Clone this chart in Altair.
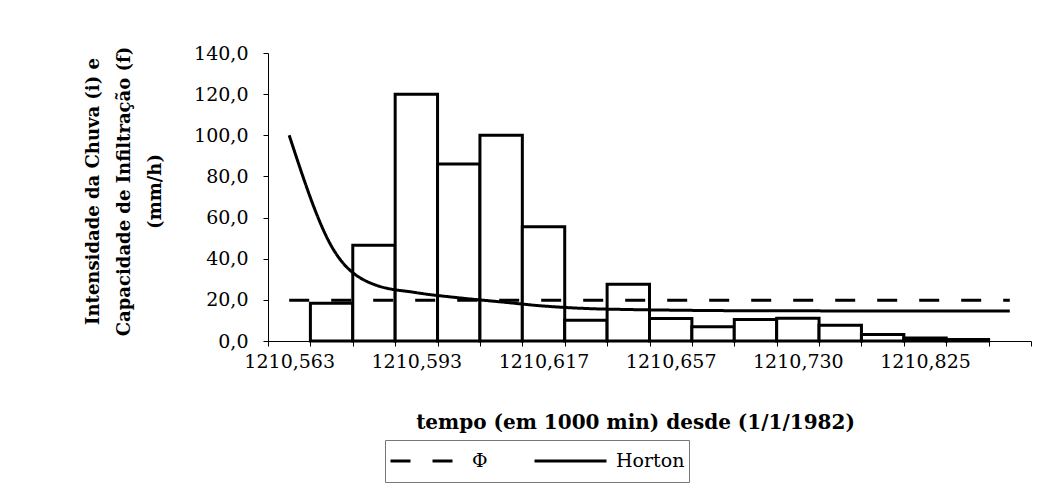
import altair as alt
import pandas as pd

# ---- data ----
x_labels = ["1210,563", "1210,593", "1210,617", "1210,657", "1210,730", "1210,825"]
rain = [None, 18.3, 46.5, 120.0, 86.0, 100.0, 55.5, 10.1, 27.6, 10.9, 6.9, 10.4, 11.0, 7.6, 3.1, 1.5, 0.7, None]
horton = [100.0, 46.0, 27.5, 23.5, 21.0, 19.0, 17.0, 15.8, 15.3, 15.0, 14.8, 14.7, 14.7, 14.6, 14.6, 14.6, 14.6, 14.6]
phi_value = 19.8
series_names = ["Φ", "Horton"]

n = len(horton)
# x coordinates in half-category units: category i spans [2i, 2i+2], centre 2i+1
bars = pd.DataFrame({
    "x0": [2 * i for i in range(n)],
    "x1": [2 * i + 2 for i in range(n)],
    "rain": rain,
})
lines = pd.DataFrame({
    "xc": [2 * i + 1 for i in range(n)] * 2,
    "v": [phi_value] * n + horton,
    "serie": [series_names[0]] * n + [series_names[1]] * n,
})

FONT = "DejaVu Serif"
xscale = alt.Scale(domain=[0, 2 * n], nice=False, zero=False)
yscale = alt.Scale(domain=[0, 140], nice=False)

label_pos = [6 * k + 1 for k in range(len(x_labels))]
tick_vals = sorted([2 * i for i in range(n + 1)] + label_pos)
label_expr = ""
for p, lab in zip(label_pos, x_labels):
    label_expr += f"datum.value == {p} ? '{lab}' : "
label_expr += "''"

x_axis = alt.Axis(
    values=tick_vals,
    labelExpr=label_expr,
    labelOverlap=False,
    labelFlush=False,
    labelBound=False,
    grid=False,
    domainColor="#000000",
    domainWidth=1,
    tickColor="#000000",
    tickSize=5,
    tickOpacity={"condition": {"test": "datum.value % 2 == 1", "value": 0}, "value": 1},
    labelFont=FONT,
    labelFontSize=19,
    labelColor="#000000",
    labelPadding=6,
    title="tempo (em 1000 min) desde (1/1/1982)",
    titleFont=FONT,
    titleFontSize=20,
    titleFontWeight="bold",
    titleColor="#000000",
    titleX=367,
    titleY=81,
    titleBaseline="middle",
)

y_axis = alt.Axis(
    values=list(range(0, 141, 20)),
    labelExpr="replace(format(datum.value, '.1f'), '.', ',')",
    grid=False,
    domainColor="#000000",
    domainWidth=1,
    tickColor="#000000",
    tickSize=5,
    labelFont=FONT,
    labelFontSize=19,
    labelColor="#000000",
    labelPadding=15,
    title=["Intensidade da Chuva (i) e", "Capacidade de Infiltração (f)", "(mm/h)"],
    titleFont=FONT,
    titleFontSize=18,
    titleFontWeight="bold",
    titleColor="#000000",
    titleLineHeight=31,
    titleAngle=270,
    titleX=-175,
    titleY=138,
    titleAlign="center",
    titleBaseline="middle",
)

bar_layer = alt.Chart(bars).mark_bar(
    fill="white", stroke="black", strokeWidth=3, strokeJoin="miter"
).encode(
    x=alt.X("x0:Q", scale=xscale, axis=x_axis),
    x2="x1:Q",
    y=alt.Y("rain:Q", scale=yscale, axis=y_axis),
    y2=alt.datum(0),
)

line_layer = alt.Chart(lines).mark_line(
    color="black", strokeWidth=3, interpolate="monotone"
).encode(
    x=alt.X("xc:Q", scale=xscale, axis=x_axis),
    y=alt.Y("v:Q", scale=yscale, axis=y_axis),
    strokeDash=alt.StrokeDash(
        "serie:N",
        scale=alt.Scale(domain=series_names, range=[[20, 22], [1, 0]]),
        sort=series_names,
        legend=alt.Legend(
            title=None,
            orient="none",
            legendX=117,
            legendY=387,
            direction="horizontal",
            symbolType="stroke",
            symbolSize=5184,
            symbolStrokeWidth=3,
            symbolStrokeColor="black",
            clipHeight=34,
            labelFont=FONT,
            labelFontSize=19,
            labelColor="#000000",
            labelOffset=8,
            columnPadding=45,
            strokeColor="#777777",
            padding=4,
        ),
    ),
)

chart = alt.layer(bar_layer, line_layer).properties(
    width=763,
    height=288,
    autosize=alt.AutoSizeParams(type="none"),
    padding={"left": 260, "top": 45, "right": 25, "bottom": 147},
    background="white",
).configure_view(stroke=None)

chart.save("out.html", embed_options={"renderer": "svg", "actions": False})
